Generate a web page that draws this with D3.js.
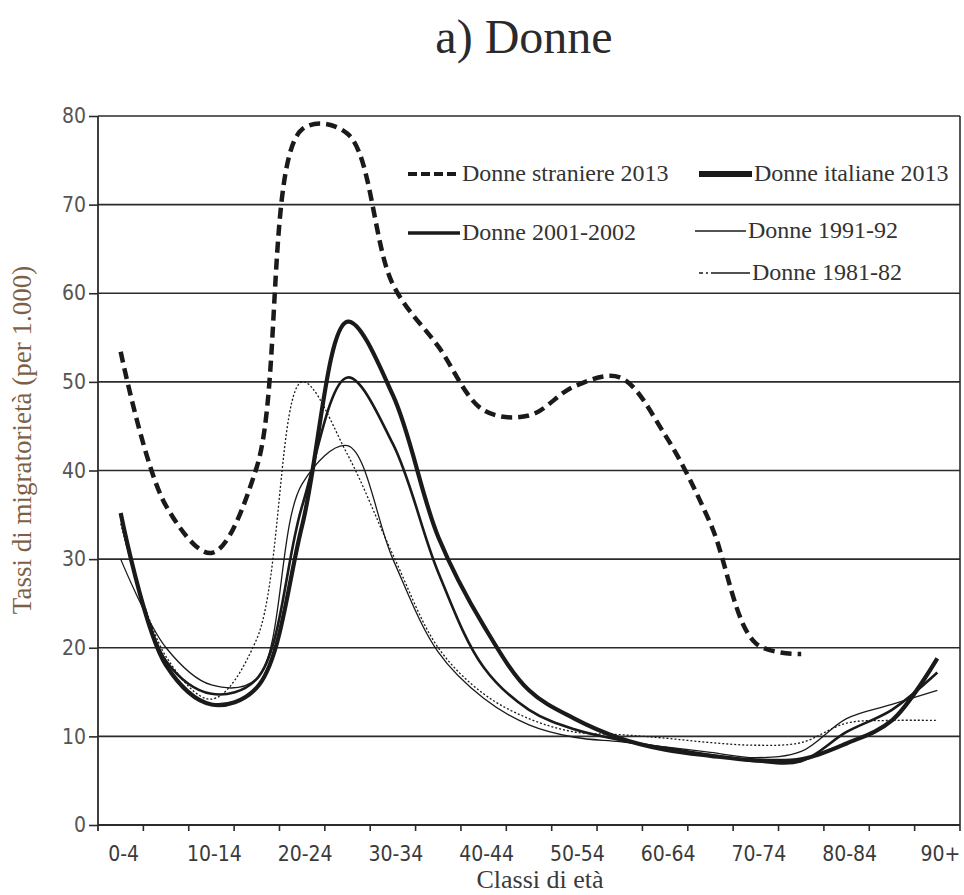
<!DOCTYPE html>
<html>
<head>
<meta charset="utf-8">
<script src="https://cdn.jsdelivr.net/npm/d3@7"></script>
<style>
  body { margin: 0; background: #fff; }
  .serif { font-family: "Liberation Serif", "Times New Roman", "DejaVu Serif", serif; }
  .tick text { font-family: "DejaVu Sans", sans-serif; font-stretch: condensed; }
</style>
</head>
<body>
<div id="chart"></div>
<script>
// age classes (x axis)
var ages = ["0-4", "5-9", "10-14", "15-19", "20-24", "25-29", "30-34", "35-39", "40-44", "45-49",
            "50-54", "55-59", "60-64", "65-69", "70-74", "75-79", "80-84", "85-89", "90+"];
var ageLabels = ["0-4", "10-14", "20-24", "30-34", "40-44", "50-54", "60-64", "70-74", "80-84", "90+"];
var yTicks = [0, 10, 20, 30, 40, 50, 60, 70, 80];

// rates per 1.000
var straniere2013 = [53.4, 36, 30.7, 40.4, 78.5, 78, 61, 54, 46.8, 46.2, 49.5, 50.5, 44, 34, 20.5, 19.3];
var italiane2013 = [35.2, 18, 13.6, 15.5, 33.8, 56.8, 48.5, 32.5, 22.5, 15.2, 12, 9.8, 8.5, 7.8, 7.3, 7.4, 9.2, 11.8, 18.8];
var donne2001 = [35, 18.5, 14.8, 16.5, 36, 50.5, 43, 28.5, 17.8, 13, 10.8, 9.6, 8.7, 7.9, 7.2, 7.2, 10.5, 13, 17.2];
var donne1991 = [30, 20, 15.8, 16.5, 38.5, 42.8, 30, 19.5, 14.3, 11.3, 9.9, 9.4, 8.8, 8.2, 7.6, 8.3, 12, 13.6, 15.2];
var donne1981 = [34, 19, 14.2, 21, 50, 41.8, 30.5, 20, 14.8, 12, 10.5, 10.2, 9.8, 9.3, 9, 9.3, 11.5, 11.8, 11.8];

var series = [
    {name: "Donne straniere 2013", values: straniere2013, width: 4.5, dash: "11,6"},
    {name: "Donne italiane 2013", values: italiane2013, width: 4.2, dash: null},
    {name: "Donne 2001-2002", values: donne2001, width: 2.6, dash: null},
    {name: "Donne 1991-92", values: donne1991, width: 1.3, dash: null},
    {name: "Donne 1981-82", values: donne1981, width: 1.3, dash: "2,2"}
];

var width = 964, height = 895;
var plotLeft = 98, plotRight = 960, plotTop = 116, plotBottom = 825;

var svg = d3.select("#chart").append("svg")
    .attr("width", width)
    .attr("height", height);

var x = d3.scaleBand().domain(ages).range([plotLeft, plotRight]);
var y = d3.scaleLinear().domain([0, 80]).range([plotBottom, plotTop]);

// title
svg.append("text")
    .attr("class", "serif")
    .attr("x", 524).attr("y", 53)
    .attr("text-anchor", "middle")
    .style("font-size", "48px")
    .style("font-family", "'Times New Roman', 'Liberation Serif', serif")
    .attr("fill", "#2a2a2a")
    .text("a) Donne");

// gridlines + frame
svg.append("g")
    .selectAll("line")
    .data(yTicks.slice(1))
    .enter().append("line")
    .attr("x1", plotLeft).attr("x2", plotRight)
    .attr("y1", d => y(d)).attr("y2", d => y(d))
    .attr("stroke", "#2b2b2b")
    .attr("stroke-width", 1.6);

svg.append("line")
    .attr("x1", plotRight).attr("x2", plotRight)
    .attr("y1", y(80)).attr("y2", plotBottom + 6)
    .attr("stroke", "#2b2b2b").attr("stroke-width", 1.6);

// y axis
var yAxis = svg.append("g")
    .attr("transform", "translate(" + plotLeft + ",0)")
    .call(d3.axisLeft(y).tickValues(yTicks).tickSize(9).tickPadding(3));
yAxis.select(".domain").remove();
yAxis.selectAll(".tick line").attr("stroke", "#2b2b2b").attr("stroke-width", 1.6);
yAxis.selectAll(".tick text").attr("font-size", 21).attr("fill", "#555");

svg.append("line")
    .attr("x1", plotLeft).attr("x2", plotLeft)
    .attr("y1", y(80)).attr("y2", plotBottom + 6)
    .attr("stroke", "#2b2b2b").attr("stroke-width", 1.8);

// x axis: ticks on the class boundaries, labels every second class
svg.append("line")
    .attr("x1", plotLeft).attr("x2", plotRight)
    .attr("y1", plotBottom).attr("y2", plotBottom)
    .attr("stroke", "#2b2b2b").attr("stroke-width", 1.8);

svg.append("g")
    .selectAll("line")
    .data(ages.slice(1))
    .enter().append("line")
    .attr("x1", d => x(d)).attr("x2", d => x(d))
    .attr("y1", plotBottom).attr("y2", plotBottom + 6)
    .attr("stroke", "#2b2b2b").attr("stroke-width", 1.6);

var xLab = svg.append("g").attr("class", "tick");
xLab.selectAll("text")
    .data(ageLabels)
    .enter().append("text")
    .attr("x", d => x(d) + x.bandwidth() / 2 + 3)
    .attr("y", 861)
    .attr("text-anchor", "middle")
    .attr("font-size", 21)
    .attr("fill", "#3a3a3a")
    .text(d => d);

// axis titles
svg.append("text")
    .attr("class", "serif")
    .attr("x", 540).attr("y", 888)
    .attr("text-anchor", "middle")
    .attr("font-size", 26)
    .attr("fill", "#3a3a3a")
    .text("Classi di età");

svg.append("text")
    .attr("class", "serif")
    .attr("transform", "translate(31,440) rotate(-90)")
    .attr("text-anchor", "middle")
    .attr("font-size", 27)
    .attr("fill", "#7d5f45")
    .text("Tassi di migratorietà (per 1.000)");

// lines
var line = d3.line()
    .x((d, i) => x(ages[i]) + x.bandwidth() / 2)
    .y(d => y(d))
    .curve(d3.curveCatmullRom.alpha(0.5));

svg.append("g")
    .selectAll("path")
    .data(series.slice().reverse())
    .enter().append("path")
    .attr("d", d => line(d.values))
    .attr("fill", "none")
    .attr("stroke", "#1a1a1a")
    .attr("stroke-width", d => d.width)
    .attr("stroke-dasharray", d => d.dash);

// legend
var legendPos = [
    {x: 408, y: 174, len: 52},
    {x: 699, y: 174, len: 53},
    {x: 408, y: 233, len: 52},
    {x: 695, y: 231, len: 51},
    {x: 699, y: 273, len: 51}
];
var legendDash = ["9,4", null, null, null, "4,3,2,3,60"];
var legendWidth = [4, 6, 3.5, 1.4, 1.4];

var legend = svg.append("g");
series.forEach(function (s, i) {
    var p = legendPos[i];
    legend.append("line")
        .attr("x1", p.x).attr("x2", p.x + p.len)
        .attr("y1", p.y).attr("y2", p.y)
        .attr("stroke", "#1a1a1a")
        .attr("stroke-width", legendWidth[i])
        .attr("stroke-dasharray", legendDash[i]);
    legend.append("text")
        .attr("class", "serif")
        .attr("x", p.x + p.len + 2)
        .attr("y", p.y + 7)
        .attr("font-size", 24)
        .attr("fill", "#333")
        .text(s.name);
});
</script>
</body>
</html>
